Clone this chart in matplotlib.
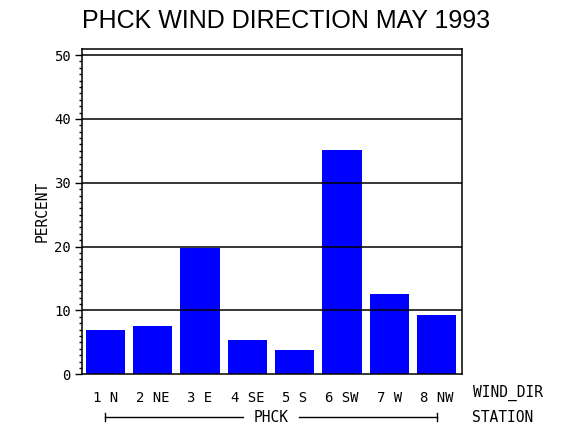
import matplotlib
matplotlib.use("Agg")
import matplotlib.pyplot as plt
from matplotlib.ticker import MultipleLocator
from matplotlib.transforms import blended_transform_factory

categories = ["1 N", "2 NE", "3 E", "4 SE", "5 S", "6 SW", "7 W", "8 NW"]
percent = [6.9, 7.6, 19.8, 5.4, 3.8, 35.1, 12.6, 9.3]
station = "PHCK"
title = "PHCK WIND DIRECTION MAY 1993"

W, H = 570, 430
fig = plt.figure(figsize=(W / 100, H / 100), dpi=100)
L, R, T, B = 81.7, 461.7, 49.3, 374.3
ax = fig.add_axes([L / W, 1 - B / H, (R - L) / W, (B - T) / H])

mono = "DejaVu Sans Mono"
fs = 10
x = list(range(len(categories)))
ax.bar(x, percent, width=0.83, color="#0000ff", zorder=2)
for v in [10, 20, 30, 40, 50]:
    ax.axhline(v, color="black", lw=1.1, zorder=3)

ax.set_xlim(-0.5, 7.53)
ax.set_ylim(0, 50.9)
for s in ax.spines.values():
    s.set_linewidth(1.1)
ax.yaxis.set_major_locator(MultipleLocator(10))
ax.yaxis.set_minor_locator(MultipleLocator(1))
ax.tick_params(axis="y", which="major", length=5, width=1, direction="out", pad=3,
               labelsize=fs)
ax.tick_params(axis="y", which="minor", length=2.5, width=1, direction="out")
for lab in ax.get_yticklabels():
    lab.set_family(mono)
ax.set_xticks(x)
ax.set_xticklabels(categories, family=mono, fontsize=fs)
ax.tick_params(axis="x", length=0, pad=12)
ax.set_ylabel("PERCENT", family=mono, fontsize=10.5, labelpad=3)

fig.text(473 / W, 1 - 393 / H, "WIND_DIR", family=mono, fontsize=10.5,
         ha="left", va="center")
fig.text(472 / W, 1 - 417 / H, "STATION", family=mono, fontsize=10.5,
         ha="left", va="center")

tr = blended_transform_factory(ax.transData, ax.transAxes)
yb = -(417 - B) / (B - T)
yh = 4 / (B - T)
kw = dict(color="black", lw=1, transform=tr, clip_on=False)
ax.plot([0, 2.91], [yb, yb], **kw)
ax.plot([4.09, 7], [yb, yb], **kw)
ax.plot([0, 0], [yb - yh, yb + yh], **kw)
ax.plot([7, 7], [yb - yh, yb + yh], **kw)
ax.text(3.5, yb, station, transform=tr, family=mono, fontsize=10.5,
        ha="center", va="center")

fig.text((83 + 490) / 2 / W, 1 - 21 / H, title, family="Liberation Sans",
         fontsize=18, ha="center", va="center")

fig.savefig("out.png", dpi=100)
